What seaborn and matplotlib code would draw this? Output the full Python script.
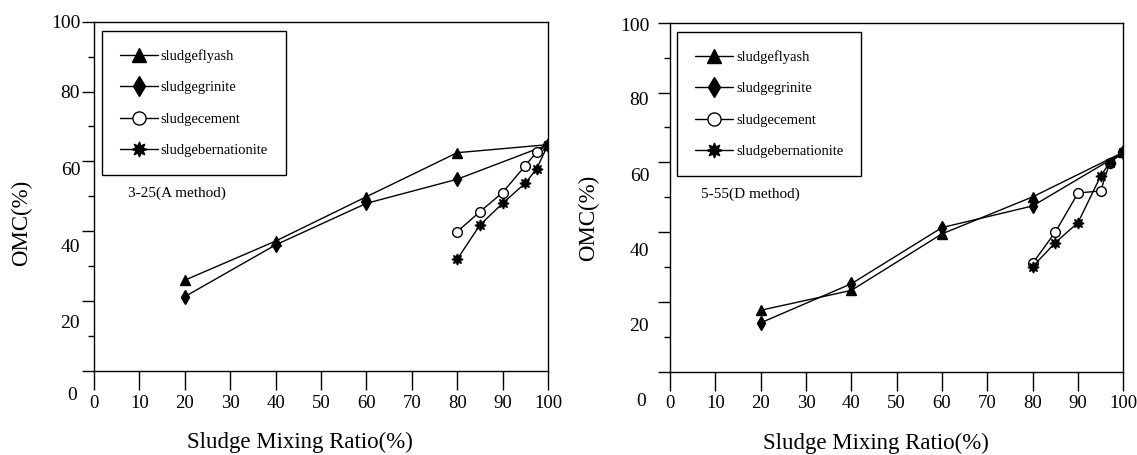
import numpy as np
import matplotlib
matplotlib.use("Agg")
import matplotlib.pyplot as plt
import seaborn as sns

# Sludge mixing ratios (%)
ratio_main = [20, 40, 60, 80, 100]
ratio_fine_a = [80, 85, 90, 95, 97.5, 100]
ratio_fine_d = [80, 85, 90, 95, 97, 100]

# OMC (%) - 3-25 gradation, A method
a_flyash = [26.0, 37.2, 49.9, 62.5, 64.8]
a_grinite = [21.3, 36.1, 48.0, 54.9, 64.8]
a_cement = [39.9, 45.6, 51.1, 58.8, 62.7, 64.8]
a_bernationite = [32.0, 41.8, 48.0, 53.8, 57.9, 64.8]

# OMC (%) - 5-55 gradation, D method
d_flyash = [17.6, 23.3, 39.5, 50.1, 62.9]
d_grinite = [14.0, 25.2, 41.3, 47.5, 62.9]
d_cement = [31.1, 40.0, 51.2, 51.8, 59.9, 62.9]
d_bernationite = [30.1, 37.0, 42.7, 56.1, 59.9, 62.9]

series_names = ["sludgeflyash", "sludgegrinite", "sludgecement", "sludgebernationite"]
notes = ["3-25(A method)", "5-55(D method)"]
x_ticks = list(range(0, 101, 10))
y_tick_text = ["100", "80", "60", "40", "20", "0"]
# printed positions of the y labels (they sit a little off the tick marks)
y_text_pos_a = [100.0, 80.0, 58.0, 35.8, 14.3, -6.9]
y_text_pos_d = [99.6, 78.2, 56.4, 34.9, 13.4, -8.5]

sns.set_theme(style="ticks")
plt.rcParams["font.family"] = ["Liberation Serif", "DejaVu Serif"]
plt.rcParams["axes.edgecolor"] = "black"
plt.rcParams["axes.linewidth"] = 1.0
plt.rcParams["xtick.color"] = "black"
plt.rcParams["ytick.color"] = "black"
plt.rcParams["text.color"] = "black"
plt.rcParams["axes.labelcolor"] = "black"

fig = plt.figure(figsize=(11.37, 4.55), dpi=100)
ax_a = fig.add_axes([0.0827, 0.1846, 0.3993, 0.7677])
ax_d = fig.add_axes([0.5893, 0.1831, 0.3987, 0.7670])

styles = [
    dict(marker="^", markersize=7, markerfacecolor="black"),
    dict(marker="d", markersize=7.5, markerfacecolor="black"),
    dict(marker="o", markersize=7, markerfacecolor="white"),
    dict(marker=(8, 1, 0), markersize=8, markerfacecolor="black"),
]


def draw_panel(ax, xs, ys, note, note_xy, text_pos, ypad, legend_anchor,
               ylabel_xy, xlabel_xy):
    for name, x, y, st in zip(series_names, xs, ys, styles):
        sns.lineplot(x=x, y=y, ax=ax, color="black", linewidth=1.0,
                     markeredgecolor="black", markeredgewidth=1.0,
                     label=name, sort=False, estimator=None, **st)

    ax.set_xlim(0, 100)
    ax.set_ylim(0, 100)
    ax.set_xticks(x_ticks)
    ax.set_xticklabels([str(v) for v in x_ticks])
    ax.tick_params(axis="x", direction="out", length=14, width=1.0, pad=3,
                   labelsize=13.5)

    # tick marks: long every 20, short in between
    ax.set_yticks(np.arange(0, 101, 20))
    ax.set_yticks(np.arange(10, 100, 20), minor=True)
    ax.tick_params(axis="y", which="major", direction="out", length=9,
                   width=1.0, labelleft=False)
    ax.tick_params(axis="y", which="minor", direction="out", length=4,
                   width=1.0, left=True)

    # y labels as printed
    sec = ax.secondary_yaxis("left")
    sec.set_yticks(text_pos[:-1], labels=y_tick_text[:-1])
    sec.tick_params(axis="y", length=0, pad=ypad, labelsize=14)
    sec.spines["left"].set_visible(False)
    ax.annotate(y_tick_text[-1], xy=(0, text_pos[-1]),
                xycoords=ax.get_yaxis_transform(),
                xytext=(-ypad - 2, 0), textcoords="offset points",
                ha="right", va="center", fontsize=14, annotation_clip=False)

    ax.set_xlabel("Sludge Mixing Ratio(%)", fontsize=16.5)
    ax.set_ylabel("OMC(%)", fontsize=16.5)
    ax.xaxis.set_label_coords(*xlabel_xy)
    ax.yaxis.set_label_coords(*ylabel_xy)

    ax.text(note_xy[0], note_xy[1], note, fontsize=11, ha="left", va="center")

    leg = ax.legend(loc="upper left", bbox_to_anchor=legend_anchor,
                    frameon=True, fancybox=False, edgecolor="black",
                    framealpha=1, borderpad=1.25, labelspacing=1.25,
                    handlelength=2.6, handletextpad=0.2, markerscale=1.35,
                    fontsize=10.5, borderaxespad=0)
    leg.get_frame().set_linewidth(1.0)
    for spine in ax.spines.values():
        spine.set_visible(True)
        spine.set_color("black")
        spine.set_linewidth(1.0)


draw_panel(ax_a,
           [ratio_main, ratio_main, ratio_fine_a, ratio_fine_a],
           [a_flyash, a_grinite, a_cement, a_bernationite],
           notes[0], (7.5, 50.9), y_text_pos_a, 10, (0.017, 0.974),
           (-0.137, 0.424), (0.454, -0.175))
draw_panel(ax_d,
           [ratio_main, ratio_main, ratio_fine_d, ratio_fine_d],
           [d_flyash, d_grinite, d_cement, d_bernationite],
           notes[1], (6.8, 50.8), y_text_pos_d, 15, (0.015, 0.974),
           (-0.157, 0.440), (0.454, -0.175))

fig.savefig("out.png", dpi=100)
